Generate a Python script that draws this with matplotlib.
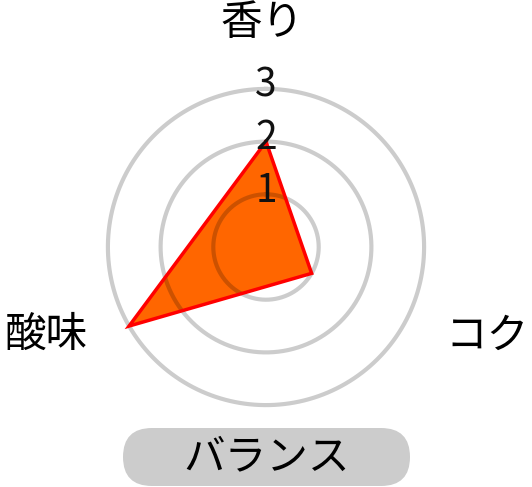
import numpy as np
import matplotlib.pyplot as plt
from matplotlib.patches import FancyBboxPatch

plt.rcParams['font.family'] = ['Noto Sans CJK JP', 'DejaVu Sans']

# data
categories = ['香り', 'コク', '酸味']
values = [2, 1, 3]
rings = [1, 2, 3]
ring_labels = ['1', '2', '3']
bottom_label = 'バランス'

W, H = 532, 487
fig = plt.figure(figsize=(W / 100, H / 100), dpi=100)

# full-figure pixel axes for the free labels and the pill box
bg = fig.add_axes([0, 0, 1, 1])
bg.set_xlim(0, W)
bg.set_ylim(H, 0)
bg.axis('off')

# polar axes placed so the center sits at pixel (266, 247)
cx, cy = 266, H - 247
unit = 52.7
rmax = 3.3
rad = unit * rmax
ax = fig.add_axes([(cx - rad) / W, (cy - rad) / H, 2 * rad / W, 2 * rad / H],
                  projection='polar')
ax.set_theta_offset(np.pi / 2)
ax.set_theta_direction(-1)
ax.set_ylim(0, rmax)

theta = np.linspace(0, 2 * np.pi, len(categories), endpoint=False)
t_closed = np.append(theta, theta[0])
v_closed = np.append(values, values[0])

ax.fill(t_closed, v_closed, color='#ff6600', zorder=1, lw=0)

# rings drawn on top with transparency so they darken the fill
tt = np.linspace(0, 2 * np.pi, 400)
for r in rings:
    ax.plot(tt, np.full_like(tt, r), color='black', alpha=0.2, lw=3, zorder=2)

ax.plot(t_closed, v_closed, color='#ff0000', lw=2.5, zorder=3,
        solid_joinstyle='miter')

for r, lab in zip(rings, ring_labels):
    ax.text(0, r + 0.07, lab, ha='center', va='center', fontsize=28,
            color='#111111', zorder=4)

ax.set_xticks([])
ax.set_yticks([])
ax.grid(False)
ax.spines['polar'].set_visible(False)
ax.patch.set_alpha(0)

# axis names
fs = 30
bg.text(262, 23, categories[0], ha='center', va='center', fontsize=fs)
bg.text(487, 336, categories[1], ha='center', va='center', fontsize=fs)
bg.text(46, 335, categories[2], ha='center', va='center', fontsize=fs)

# bottom pill label
bx0, bx1, by0, by1 = 123, 410, 428, 486
box = FancyBboxPatch((bx0, by0), bx1 - bx0, by1 - by0,
                     boxstyle='round,pad=0,rounding_size=29',
                     facecolor='#cccccc', edgecolor='none')
bg.add_patch(box)
bg.text(267, 458, bottom_label, ha='center', va='center', fontsize=fs)

fig.savefig('out.png', dpi=100)
